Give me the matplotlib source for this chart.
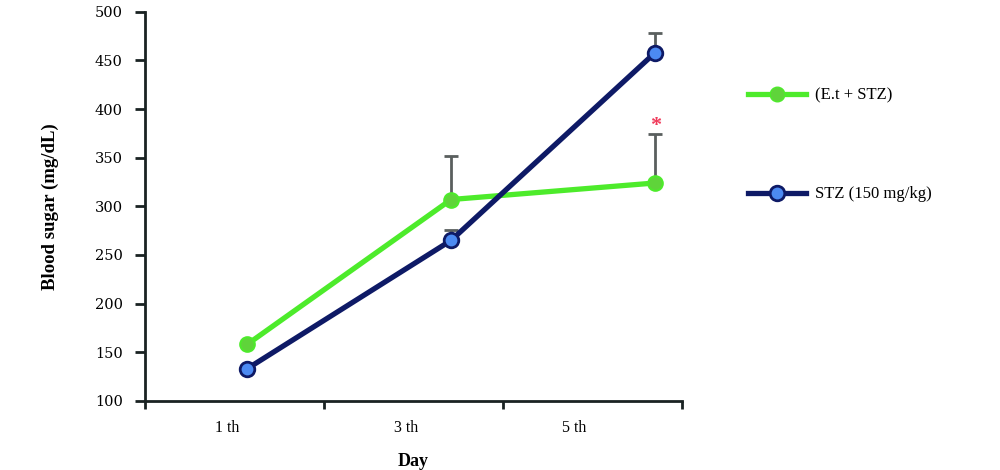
import matplotlib
matplotlib.use("Agg")
import matplotlib.pyplot as plt
from matplotlib.lines import Line2D

days = ["1 th", "3 th", "5 th"]
et_stz = [158, 307, 324]
et_stz_err = [0, 45, 50]
stz = [133, 265, 458]
stz_err = [0, 11, 20]
labels = ["(E.t + STZ)", "STZ (150 mg/kg)"]

plt.rcParams['font.family'] = ['Liberation Serif', 'DejaVu Serif']

fig = plt.figure(figsize=(10, 4.7), dpi=100)
ax = fig.add_axes([0.145, 0.147, 0.537, 0.828])

pt_x = [0.57, 1.71, 2.85]
lab_x = [0.46, 1.46, 2.40]

green = '#4DEB2B'
green_face = '#5FD43A'
navy = '#0E1A66'
blue_face = '#4C8AF2'
errc = '#5A5F5E'

ax.errorbar(pt_x, et_stz, yerr=[[0]*3, et_stz_err], fmt='none', ecolor=errc,
            elinewidth=2, capsize=5, capthick=2, zorder=2)
ax.errorbar(pt_x, stz, yerr=[[0]*3, stz_err], fmt='none', ecolor=errc,
            elinewidth=2, capsize=5, capthick=2, zorder=2)
ax.plot(pt_x, et_stz, color=green, lw=3.8, marker='o', ms=10.5,
        mfc=green_face, mec=green, mew=1.5, zorder=3, solid_capstyle='round')
ax.plot(pt_x, stz, color=navy, lw=3.8, marker='o', ms=10.5,
        mfc=blue_face, mec=navy, mew=2, zorder=4, solid_capstyle='round')
ax.text(pt_x[2], 383, '*', color='#F03A5A', fontsize=16, ha='center', va='center',
        fontweight='bold')

ax.set_xlim(0, 3)
ax.set_ylim(100, 500)
ax.set_yticks(range(100, 501, 50))
ax.set_yticklabels([str(v) for v in range(100, 501, 50)], family=['DejaVu Serif'])
ax.set_xticks([0, 1, 2, 3])
ax.set_xticklabels([])
ax.set_xticks(lab_x, minor=True)
ax.set_xticklabels(days, minor=True)
ax.tick_params(axis='x', which='minor', length=0, pad=14, labelsize=11.5)
ax.tick_params(axis='x', which='major', length=6, width=2, direction='out', color='#1a2222')
ax.tick_params(axis='y', length=7, width=2, direction='out', color='#1a2222', labelsize=10.5, pad=9)

for s in ['top', 'right']:
    ax.spines[s].set_visible(False)
for s in ['left', 'bottom']:
    ax.spines[s].set_linewidth(2)
    ax.spines[s].set_color('#1a2222')

ax.set_ylabel('Blood sugar (mg/dL)', fontsize=13.5, fontweight='bold', labelpad=26)
ax.set_xlabel('Day', fontsize=13, fontweight='bold', labelpad=12)

handles = [
    Line2D([], [], color=green, lw=3.8, marker='o', ms=10.5, mfc=green_face, mec=green),
    Line2D([], [], color=navy, lw=3.8, marker='o', ms=10.5, mfc=blue_face, mec=navy, mew=2),
]
leg = fig.legend(handles, labels, loc='upper left', bbox_to_anchor=(0.733, 0.845),
                 frameon=False, fontsize=12, handlelength=3.5, labelspacing=4.95,
                 handletextpad=0.5)

fig.savefig('out.png', dpi=100)
